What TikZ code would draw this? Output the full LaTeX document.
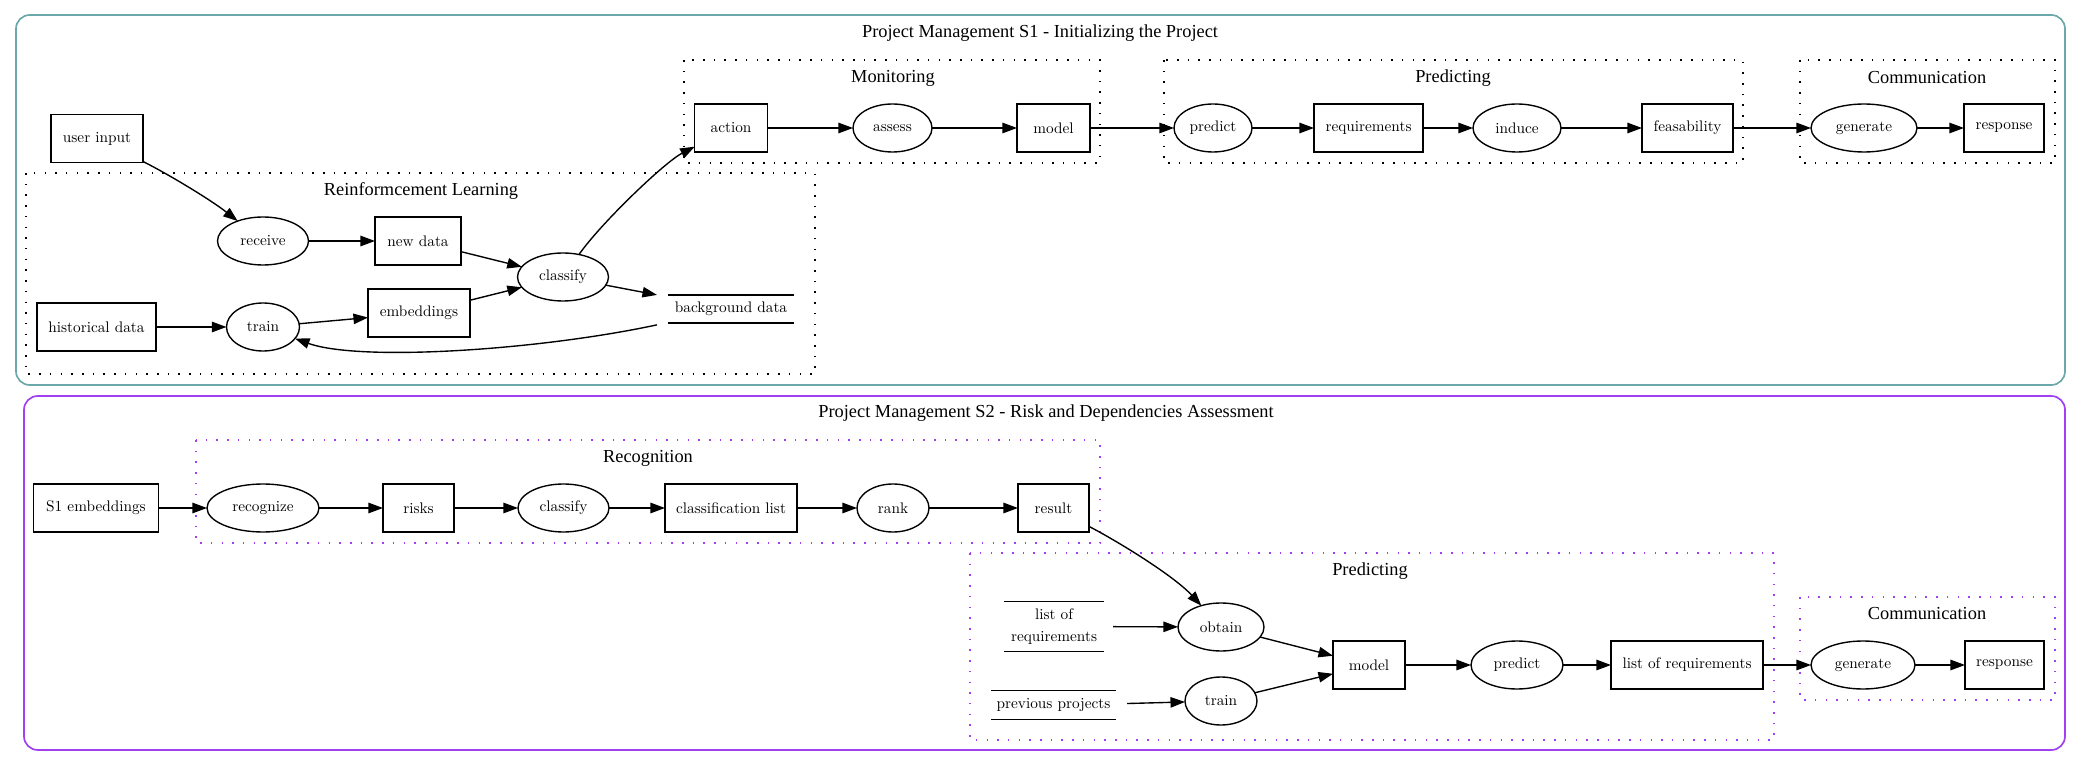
\documentclass[tikz,border=0pt]{standalone}
\usepackage{fontspec}
\newfontfamily\titlefont{Liberation Serif}
\usetikzlibrary{arrows.meta,calc,shapes.geometric}
\definecolor{sone}{HTML}{6AA8AA}
\definecolor{stwo}{HTML}{A040F0}
\newdimen\pu \pu=0.6536pt
\begin{document}
\begin{tikzpicture}[x=0.6536pt,y=-0.6536pt,
  every node/.style={inner sep=0pt,outer sep=0pt,font=\fontsize{10}{14.4}\selectfont},
  box/.style={draw,rectangle,line width=0.9pt,minimum height=48\pu,minimum width=#1},
  ell/.style={draw,ellipse,line width=0.9pt,minimum height=48\pu,minimum width=#1},
  store/.style={rectangle,minimum height=48\pu,minimum width=#1,align=center},
  storeline/.style={line width=0.9pt},
  edge/.style={-{Triangle[length=9.5pt,width=6.8pt]},line width=0.9pt},
  cluster/.style={dash pattern=on 1pt off 6pt,line width=0.9pt},
  outer/.style={rounded corners=9pt,line width=1.1pt},
  title/.style={font=\titlefont\fontsize{12}{14}\selectfont},
]
\useasboundingbox (0,0) rectangle (2081,767);

% ---------------- S1 ----------------
\draw[outer,draw=sone] (16,15) rectangle (2065,385);
\node[title] (t1) at (1040,33) {Project Management S1 - Initializing the Project};

\draw[cluster] (26,173) rectangle (815,374);
\node[title] (trl) at (421,191) {Reinformcement Learning};
\draw[cluster] (684,60) rectangle (1100,163);
\node[title] (tmon) at (893,78) {Monitoring};
\draw[cluster] (1164,60) rectangle (1743,163);
\node[title] (tpred1) at (1453,78) {Predicting};
\draw[cluster] (1800,60) rectangle (2055,163);
\node[title] (tcom1) at (1927,78) {Communication};

\node[box=92\pu] (userinput) at (97,138.5) {user input};
\node[ell=91\pu] (receive) at (263,241) {receive};
\node[box=86\pu] (newdata) at (418,241) {new data};
\node[ell=91\pu] (classify1) at (563,277) {classify};
\node[box=119\pu] (historical) at (96.5,327) {historical data};
\node[ell=73\pu] (train1) at (263,327) {train};
\node[box=102\pu] (embeddings) at (419,313) {embeddings};
\node[store=148\pu] (bg) at (731,309) {background data};
\draw[storeline] ($(bg.west)+(11,-14)$) -- ($(bg.east)+(-11,-14)$);
\draw[storeline] ($(bg.west)+(11,14)$) -- ($(bg.east)+(-11,14)$);

\node[box=72.5\pu] (action) at (731,128) {action};
\node[ell=79\pu] (assess) at (892.5,128) {assess};
\node[box=73\pu] (model1) at (1053.5,128) {model};
\node[ell=78\pu] (predict1) at (1213,128) {predict};
\node[box=109\pu] (requirements) at (1368.5,128) {requirements};
\node[ell=88\pu] (induce) at (1517,128) {induce};
\node[box=91\pu] (feasability) at (1687.5,128) {feasability};
\node[ell=106\pu] (generate1) at (1864,128) {generate};
\node[box=80\pu] (response1) at (2004,128) {response};

\draw[edge] (userinput) .. controls (168,174) and (211,200) .. (receive);
\draw[edge] (receive) -- (newdata);
\draw[edge] (newdata) -- (classify1);
\draw[edge] (historical) -- (train1);
\draw[edge] (train1) -- (embeddings);
\draw[edge] (embeddings) -- (classify1);
\draw[edge] (classify1) -- (bg);
\draw[edge] (bg) .. controls (540,350) and (360,362) .. (train1);
\draw[edge] (classify1) .. controls (602,222) and (665,162) .. (action);
\draw[edge] (action) -- (assess);
\draw[edge] (assess) -- (model1);
\draw[edge] (model1) -- (predict1);
\draw[edge] (predict1) -- (requirements);
\draw[edge] (requirements) -- (induce);
\draw[edge] (induce) -- (feasability);
\draw[edge] (feasability) -- (generate1);
\draw[edge] (generate1) -- (response1);

% ---------------- S2 ----------------
\draw[outer,draw=stwo] (24,396) rectangle (2065,750);
\node[title] (t2) at (1046,413) {Project Management S2 - Risk and Dependencies Assessment};

\draw[cluster,draw=stwo] (196,440) rectangle (1100,543);
\node[title] (trec) at (648,458) {Recognition};
\draw[cluster,draw=stwo] (970,553) rectangle (1774,740);
\node[title] (tpred2) at (1370,571) {Predicting};
\draw[cluster,draw=stwo] (1800,597) rectangle (2055,700);
\node[title] (tcom2) at (1927,614) {Communication};

\node[box=124.6\pu] (s1emb) at (96,508) {S1 embeddings};
\node[ell=112\pu] (recognize) at (263,508) {recognize};
\node[box=71\pu] (risks) at (418.5,508) {risks};
\node[ell=91\pu] (classify2) at (563.5,508) {classify};
\node[box=132\pu] (classlist) at (731,508) {classification list};
\node[ell=72\pu] (rank) at (893,508) {rank};
\node[box=71\pu] (result) at (1053.5,508) {result};

\node[store=118\pu] (listreq) at (1054,626.5) {list of\\requirements};
\draw[storeline] ($(listreq.west)+(9,-25)$) -- ($(listreq.east)+(-9,-25)$);
\draw[storeline] ($(listreq.west)+(9,25)$) -- ($(listreq.east)+(-9,25)$);
\node[store=147\pu] (prevproj) at (1053.5,705.5) {previous projects};
\draw[storeline] ($(prevproj.west)+(11,-15)$) -- ($(prevproj.east)+(-11,-15)$);
\draw[storeline] ($(prevproj.west)+(11,14)$) -- ($(prevproj.east)+(-11,14)$);
\node[ell=86\pu] (obtain) at (1221,627) {obtain};
\node[ell=72\pu] (train2) at (1221,701) {train};
\node[box=72\pu] (model2) at (1369,665) {model};
\node[ell=92\pu] (predict2) at (1517,665) {predict};
\node[box=152\pu] (listreq2) at (1687,665) {list of requirements};
\node[ell=104\pu] (generate2) at (1863,665) {generate};
\node[box=79\pu] (response2) at (2004.5,665) {response};

\draw[edge] (s1emb) -- (recognize);
\draw[edge] (recognize) -- (risks);
\draw[edge] (risks) -- (classify2);
\draw[edge] (classify2) -- (classlist);
\draw[edge] (classlist) -- (rank);
\draw[edge] (rank) -- (result);
\draw[edge] (result) .. controls (1119,542) and (1174,576) .. (obtain);
\draw[edge] (listreq) -- (obtain);
\draw[edge] (prevproj) -- (train2);
\draw[edge] (obtain) -- (model2);
\draw[edge] (train2) -- (model2);
\draw[edge] (model2) -- (predict2);
\draw[edge] (predict2) -- (listreq2);
\draw[edge] (listreq2) -- (generate2);
\draw[edge] (generate2) -- (response2);
\end{tikzpicture}
\end{document}
